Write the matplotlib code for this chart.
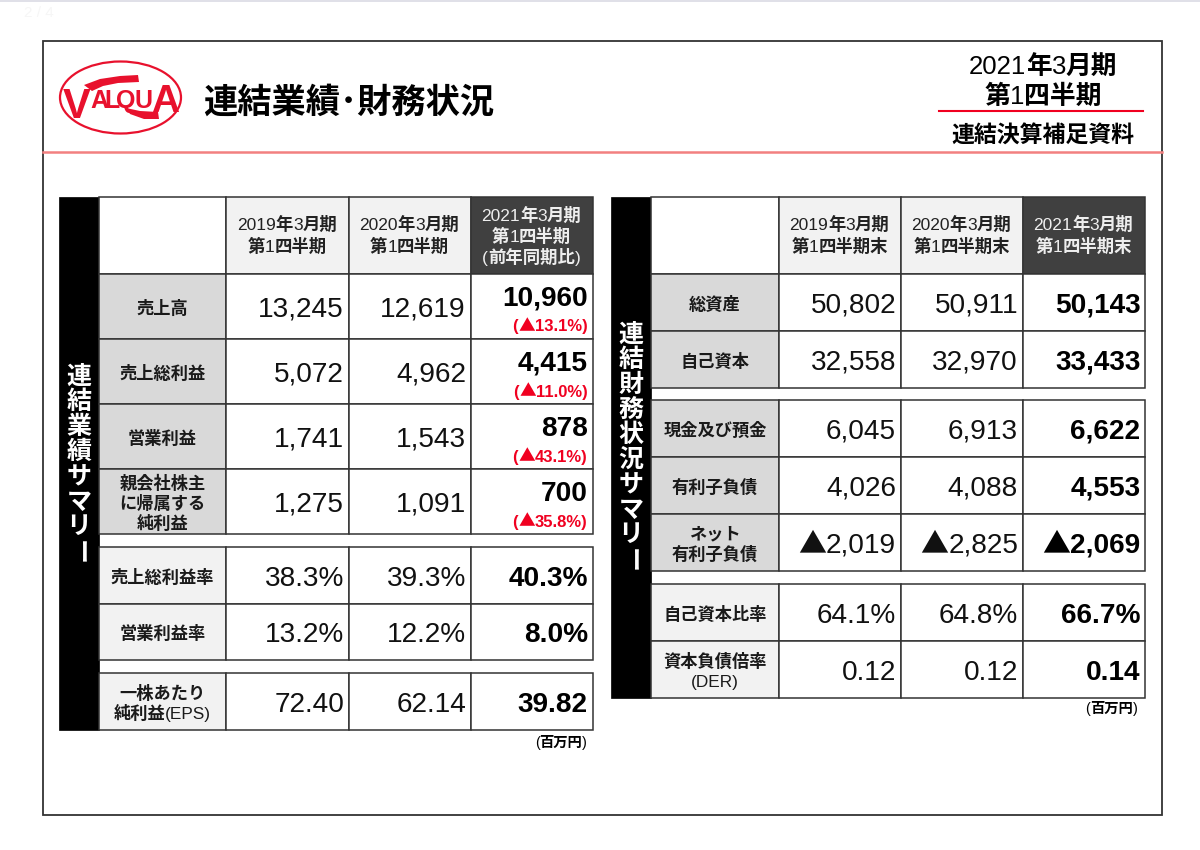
"""
連結業績・財務状況 summary slide, drawn as two tables in pixel coordinates.
"""

import matplotlib
matplotlib.use('Agg')
import matplotlib.pyplot as plt
from matplotlib.font_manager import FontProperties
from matplotlib.patches import Ellipse, Polygon, Rectangle

# ---- data ----
left_headers = ['2019年3月期\n第1四半期', '2020年3月期\n第1四半期', '2021年3月期\n第1四半期\n(前年同期比)']
left_labels = ['売上高', '売上総利益', '営業利益', '親会社株主\nに帰属する\n純利益',
               '売上総利益率', '営業利益率', '一株あたり\n純利益(EPS)']
left_2019 = ['13,245', '5,072', '1,741', '1,275', '38.3%', '13.2%', '72.40']
left_2020 = ['12,619', '4,962', '1,543', '1,091', '39.3%', '12.2%', '62.14']
left_2021 = ['10,960', '4,415', '878', '700', '40.3%', '8.0%', '39.82']
left_yoy = ['(▲13.1%)', '(▲11.0%)', '(▲43.1%)', '(▲35.8%)']

right_headers = ['2019年3月期\n第1四半期末', '2020年3月期\n第1四半期末', '2021年3月期\n第1四半期末']
right_labels = ['総資産', '自己資本', '現金及び預金', '有利子負債', 'ネット\n有利子負債',
                '自己資本比率', '資本負債倍率\n(DER)']
right_2019 = ['50,802', '32,558', '6,045', '4,026', '▲2,019', '64.1%', '0.12']
right_2020 = ['50,911', '32,970', '6,913', '4,088', '▲2,825', '64.8%', '0.12']
right_2021 = ['50,143', '33,433', '6,622', '4,553', '▲2,069', '66.7%', '0.14']

# ---- colours ----
RED = '#e8112d'
LINE = '#333333'
DARK = '#404040'
GREY = '#d9d9d9'
LIGHT = '#f2f2f2'

LATIN = 'Liberation Sans'
NARROW = ['Liberation Sans Narrow', 'Liberation Sans']
CJK = 'Noto Sans CJK JP'

fig = plt.figure(figsize=(12, 8.5), dpi=100)
ax = fig.add_axes([0, 0, 1, 1])
ax.set_xlim(0, 1200)
ax.set_ylim(850, 0)
ax.axis('off')
renderer = fig.canvas.get_renderer()


def split_runs(s):
    runs = []
    for ch in s:
        fam = LATIN if ord(ch) < 128 else CJK
        if runs and runs[-1][0] == fam:
            runs[-1][1] += ch
        else:
            runs.append([fam, ch])
    return runs


def put(x, yc, s, size, color='black', ha='center', latin='normal', cjk='bold'):
    """Draw one line, Latin and CJK runs with their own weights, centred on yc."""
    runs = split_runs(s)
    widths = []
    for fam, part in runs:
        fp = FontProperties(family=fam, size=size, weight=latin if fam == LATIN else cjk)
        widths.append(renderer.get_text_width_height_descent(part, fp, False)[0])
    total = sum(widths)
    left = x - total / 2 if ha == 'center' else x - total
    base = yc + size * 100 / 72 * 0.36
    for (fam, part), w in zip(runs, widths):
        ax.text(left, base, part, family=fam, fontsize=size, color=color, ha='left',
                va='baseline', fontweight=latin if fam == LATIN else cjk, zorder=4)
        left += w


def put_lines(x, yc, s, size, pitch, **kw):
    lines = s.split('\n')
    for i, line in enumerate(lines):
        put(x, yc + (i - (len(lines) - 1) / 2) * pitch, line, size, **kw)


def cell(x0, y0, x1, y1, fc='white'):
    ax.add_patch(Rectangle((x0, y0), x1 - x0, y1 - y0, facecolor=fc, edgecolor=LINE,
                           linewidth=1.1, zorder=2))


def vertical_title(xc, y0, pitch, s):
    for i, ch in enumerate(s):
        ax.text(xc, y0 + i * pitch, ch, family=CJK, fontsize=18, fontweight='bold', color='white',
                ha='center', va='center', rotation=270 if ch == 'ー' else 0, zorder=3)


def draw_table(bar_x, cols, header_bottom, top, rows, fills, headers, labels, c1, c2,
               title, title_y):
    ax.add_patch(Rectangle((bar_x, top), cols[0] - bar_x, rows[-1][1] - top, facecolor='black',
                           edgecolor='black', linewidth=0.5, zorder=2))
    vertical_title((bar_x + cols[0]) / 2, title_y, 25, title)

    # header row
    cell(cols[0], top, cols[1], header_bottom)
    for i, h in enumerate(headers):
        newest = i == 2
        cell(cols[i + 1], top, cols[i + 2], header_bottom, DARK if newest else LIGHT)
        color = '#eeeeee' if newest else '#222222'
        n = h.count('\n') + 1
        put_lines((cols[i + 1] + cols[i + 2]) / 2 - 0.5, (top + header_bottom) / 2 + (0 if n == 3 else -0.5),
                  h, 12.5, 21 if n == 3 else 22, color=color)

    # body rows
    for r, (y0, y1) in enumerate(rows):
        cell(cols[0], y0, cols[1], y1, fills[r])
        for c in range(3):
            cell(cols[c + 1], y0, cols[c + 2], y1)
        yc = (y0 + y1) / 2
        put_lines((cols[0] + cols[1]) / 2, yc + 1, labels[r], 12.4, 20, color='#1a1a1a')
        put(cols[2] - 5, yc, c1[r], 20.2, ha='right', color='#111111')
        put(cols[3] - 5, yc, c2[r], 20.2, ha='right', color='#111111')


# page furniture
ax.add_patch(Rectangle((0, 0), 1200, 1.5, facecolor='#e0e0e8', edgecolor='none'))
ax.text(24, 13, '2 / 4', family=LATIN, fontsize=11, color='#f6f6f6', va='center')
ax.add_patch(Rectangle((43, 41), 1119, 774, facecolor='white', edgecolor=LINE, linewidth=1.3))
ax.plot([43, 1162], [152, 152], color='#f28080', linewidth=1.8)

# logo
ax.add_patch(Ellipse((120.5, 97.5), 121, 72, facecolor='white', edgecolor=RED, linewidth=1.6))
ax.add_patch(Polygon([(84, 85), (100, 79), (120, 76), (138, 75), (139, 82), (118, 83), (103, 86), (92, 91)],
                     facecolor=RED, edgecolor='none'))
ax.add_patch(Polygon([(126, 108), (140, 111), (158, 112), (159, 119), (144, 119), (130, 114)],
                     facecolor=RED, edgecolor='none'))
logo_letters = ['V', 'A', 'L', 'Q', 'U', 'A']
logo_x = [77, 99, 112, 126, 143, 165]
logo_y = [118, 108, 108, 108, 108, 112]
logo_size = [30, 18, 18, 18, 18, 28]
for ch, lx, ly, ls in zip(logo_letters, logo_x, logo_y, logo_size):
    ax.text(lx, ly, ch, family=NARROW, fontweight='bold', fontsize=ls, color=RED, ha='center', va='baseline')

# titles
ax.text(203, 102, '連結業績･財務状況', family=CJK, fontsize=24.7, fontweight='bold', ha='left',
        va='center', color='black')
put(1043, 65, '2021年3月期', 18.5)
put(1043, 95, '第1四半期', 18.6)
ax.plot([939, 1143], [111, 111], color='#f00020', linewidth=1.5)
put(1043, 134, '連結決算補足資料', 16.5)

# left table
left_cols = [99, 226, 349, 471, 593]
left_rows = [(274, 339), (339, 404), (404, 469), (469, 534), (547, 604), (604, 660), (673, 730)]
left_fills = [GREY] * 4 + [LIGHT] * 3
draw_table(59, left_cols, 274, 197, left_rows, left_fills, left_headers, left_labels,
           left_2019, left_2020, '連結業績サマリー', 377)
for r, (y0, y1) in enumerate(left_rows):
    yc = (y0 + y1) / 2
    if r < len(left_yoy):
        put(588, yc - 11, left_2021[r], 20.2, ha='right', latin='bold')
        put(587.5, yc + 19, left_yoy[r], 12, ha='right', latin='bold', color='#f00020')
    else:
        put(588, yc, left_2021[r], 20.2, ha='right', latin='bold')
put(587, 742, '(百万円)', 10.3, ha='right')

# right table
right_cols = [651, 779, 901, 1023, 1145]
right_rows = [(274, 331), (331, 388), (400, 457), (457, 514), (514, 571), (584, 641), (641, 698)]
right_fills = [GREY] * 5 + [LIGHT] * 2
draw_table(611, right_cols, 274, 197, right_rows, right_fills, right_headers, right_labels,
           right_2019, right_2020, '連結財務状況サマリー', 335)
for r, (y0, y1) in enumerate(right_rows):
    put(1140.5, (y0 + y1) / 2, right_2021[r], 20.2, ha='right', latin='bold')
put(1138, 708, '(百万円)', 10.3, ha='right')

fig.savefig('out.png', dpi=100, facecolor='white')
